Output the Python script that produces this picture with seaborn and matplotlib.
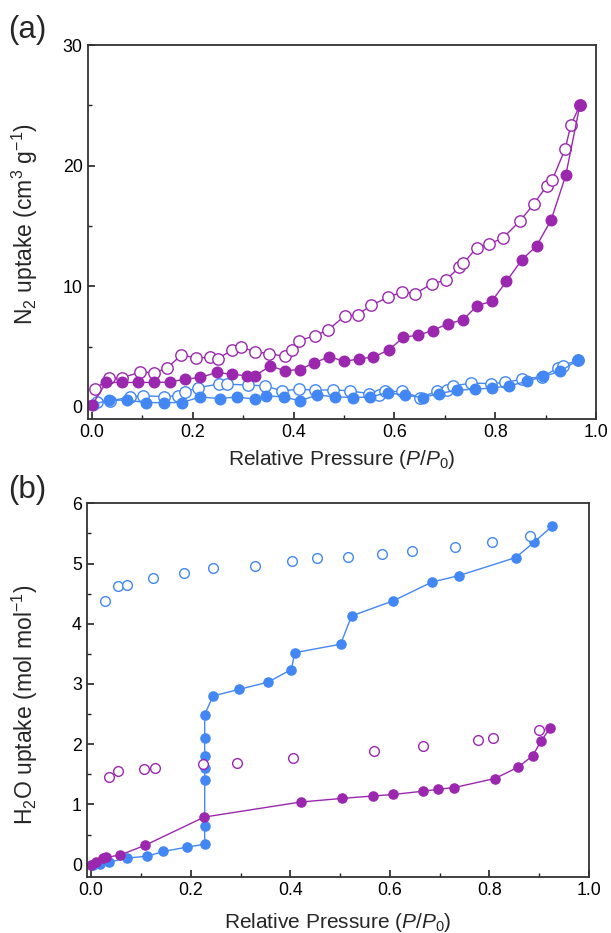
import matplotlib
matplotlib.use("Agg")
import matplotlib.pyplot as plt
from matplotlib.ticker import MultipleLocator
import seaborn as sns
import pandas as pd

# ---------------- data: panel (a) N2 ----------------
a_purple_ads_x = [0.0, 0.028, 0.060, 0.091, 0.122, 0.154, 0.184, 0.215, 0.247, 0.278, 0.307, 0.323,
                  0.354, 0.382, 0.412, 0.441, 0.471, 0.500, 0.529, 0.558, 0.589, 0.618, 0.647, 0.676,
                  0.706, 0.736, 0.764, 0.793, 0.822, 0.853, 0.882, 0.911, 0.940, 0.968]
a_purple_ads_y = [0.15, 2.03, 2.03, 2.03, 2.03, 2.06, 2.3, 2.44, 2.86, 2.7, 2.58, 2.58,
                  3.4, 3.0, 3.1, 3.65, 4.17, 3.78, 3.97, 4.14, 4.72, 5.78, 5.95, 6.33,
                  6.9, 7.2, 8.4, 8.75, 10.4, 12.2, 13.35, 15.5, 19.2, 25.0]
a_purple_des_x = [0.006, 0.033, 0.060, 0.096, 0.122, 0.148, 0.177, 0.207, 0.235, 0.249, 0.278, 0.295,
                  0.323, 0.352, 0.382, 0.397, 0.411, 0.442, 0.469, 0.501, 0.527, 0.554, 0.588, 0.616,
                  0.641, 0.675, 0.702, 0.729, 0.737, 0.763, 0.788, 0.815, 0.849, 0.876, 0.902, 0.913,
                  0.939, 0.950, 0.968]
a_purple_des_y = [1.45, 2.39, 2.42, 2.9, 2.83, 3.19, 4.3, 4.06, 4.1, 4.0, 4.7, 4.97,
                  4.58, 4.42, 4.19, 4.7, 5.5, 5.9, 6.4, 7.53, 7.64, 8.42, 9.11, 9.53,
                  9.39, 10.22, 10.5, 11.6, 11.9, 13.2, 13.5, 14.0, 15.4, 16.8, 18.3, 18.8,
                  21.4, 23.36, 25.0]
a_blue_ads_x = [0.002, 0.033, 0.069, 0.108, 0.143, 0.178, 0.215, 0.253, 0.287, 0.324, 0.345, 0.380,
                0.413, 0.447, 0.482, 0.518, 0.552, 0.587, 0.621, 0.656, 0.689, 0.724, 0.759, 0.793,
                0.827, 0.863, 0.895, 0.929, 0.964]
a_blue_ads_y = [0.2, 0.56, 0.56, 0.36, 0.36, 0.36, 0.83, 0.69, 0.83, 0.64, 0.92, 0.83,
                0.5, 1.0, 0.83, 0.78, 0.83, 1.19, 0.97, 0.78, 1.11, 1.39, 1.47, 1.56,
                1.75, 2.11, 2.53, 2.94, 3.89]
a_blue_des_x = [0.010, 0.036, 0.076, 0.102, 0.143, 0.170, 0.185, 0.211, 0.251, 0.268, 0.309, 0.344,
                0.377, 0.410, 0.443, 0.479, 0.512, 0.549, 0.570, 0.582, 0.615, 0.651, 0.684, 0.705,
                0.717, 0.752, 0.792, 0.820, 0.853, 0.892, 0.925, 0.934, 0.964]
a_blue_des_y = [0.45, 0.5, 0.83, 0.92, 0.86, 0.92, 1.25, 1.61, 1.89, 1.89, 1.81, 1.75,
                1.33, 1.47, 1.39, 1.42, 1.33, 1.11, 1.0, 1.28, 1.28, 0.78, 1.28, 1.39,
                1.75, 1.97, 1.94, 2.03, 2.31, 2.5, 3.22, 3.42, 3.89]

# ---------------- data: panel (b) H2O ----------------
b_blue_ads_x = [0.003, 0.017, 0.035, 0.072, 0.113, 0.145, 0.192, 0.228, 0.228, 0.228, 0.228, 0.228,
                0.228, 0.228, 0.2445, 0.297, 0.355, 0.402, 0.409, 0.501, 0.523, 0.6065, 0.684,
                0.739, 0.853, 0.889, 0.926]
b_blue_ads_y = [0.0, 0.01, 0.04, 0.11, 0.14, 0.22, 0.29, 0.34, 0.65, 1.40, 1.60, 1.81,
                2.10, 2.49, 2.80, 2.91, 3.03, 3.24, 3.52, 3.66, 4.13, 4.38, 4.69,
                4.80, 5.10, 5.35, 5.62]
b_blue_des_x = [0.027, 0.0535, 0.072, 0.124, 0.186, 0.2445, 0.330, 0.403, 0.454, 0.516, 0.585,
                0.6435, 0.731, 0.806, 0.881]
b_blue_des_y = [4.37, 4.63, 4.64, 4.76, 4.85, 4.92, 4.96, 5.04, 5.09, 5.11, 5.15,
                5.21, 5.28, 5.35, 5.46]
b_purple_ads_x = [0.0006, 0.0087, 0.023, 0.030, 0.058, 0.108, 0.227, 0.421, 0.504, 0.566, 0.6065,
                  0.667, 0.696, 0.729, 0.811, 0.858, 0.887, 0.9035, 0.922]
b_purple_ads_y = [0.0, 0.05, 0.11, 0.12, 0.16, 0.32, 0.79, 1.04, 1.10, 1.14, 1.165,
                  1.22, 1.25, 1.28, 1.43, 1.62, 1.81, 2.05, 2.27]
b_purple_des_x = [0.035, 0.0535, 0.106, 0.129, 0.224, 0.292, 0.405, 0.568, 0.667, 0.777, 0.808, 0.8995]
b_purple_des_y = [1.45, 1.55, 1.59, 1.60, 1.675, 1.69, 1.775, 1.885, 1.97, 2.075, 2.10, 2.24]

PURPLE = "#9B27AF"
BLUE = "#4287F3"

sns.set_style("ticks")
plt.rcParams["font.family"] = ["Liberation Sans", "DejaVu Sans"]
plt.rcParams["mathtext.fontset"] = "custom"
plt.rcParams["mathtext.rm"] = "Liberation Sans"
plt.rcParams["mathtext.it"] = "Liberation Sans:italic"
plt.rcParams["mathtext.bf"] = "Liberation Sans:bold"

W, H = 611, 933
fig = plt.figure(figsize=(W / 100, H / 100), dpi=100)
ax_a = fig.add_axes([87.5 / W, 1 - 419 / H, (596 - 87.5) / W, 374 / H])
ax_b = fig.add_axes([86.7 / W, 1 - 876.7 / H, (589 - 86.7) / W, 373.4 / H])


def line(ax, xs, ys, color, filled, ms, lw=1.0, mew=1.0):
    df = pd.DataFrame({"x": xs, "y": ys})
    sns.lineplot(data=df, x="x", y="y", ax=ax, sort=False, estimator=None,
                 color=color, lw=lw, marker="o", markersize=ms,
                 markerfacecolor=color if filled else "white",
                 markeredgecolor=color, markeredgewidth=mew)


def dots(ax, xs, ys, color, ms):
    df = pd.DataFrame({"x": xs, "y": ys})
    sns.lineplot(data=df, x="x", y="y", ax=ax, sort=False, estimator=None,
                 color=color, lw=0, linestyle="none", marker="o", markersize=ms,
                 markerfacecolor="white", markeredgecolor=color, markeredgewidth=1.0)


# panel (a)
line(ax_a, a_blue_des_x, a_blue_des_y, BLUE, False, 8.2)
line(ax_a, a_blue_ads_x, a_blue_ads_y, BLUE, True, 7.6)
line(ax_a, a_purple_des_x, a_purple_des_y, PURPLE, False, 8.2)
line(ax_a, a_purple_ads_x, a_purple_ads_y, PURPLE, True, 7.6)

# panel (b)
line(ax_b, b_blue_ads_x, b_blue_ads_y, BLUE, True, 6.6)
dots(ax_b, b_blue_des_x, b_blue_des_y, BLUE, 7.0)
line(ax_b, b_purple_ads_x, b_purple_ads_y, PURPLE, True, 6.6)
dots(ax_b, b_purple_des_x, b_purple_des_y, PURPLE, 7.0)

for ax in (ax_a, ax_b):
    ax.set_xlim(-0.009, 1.0)
    ax.xaxis.set_major_locator(MultipleLocator(0.2))
    ax.xaxis.set_minor_locator(MultipleLocator(0.1))
    ax.xaxis.set_major_formatter(matplotlib.ticker.FormatStrFormatter("%.1f"))
    ax.tick_params(which="both", direction="in", top=False, right=False, colors="#222222",
                   labelsize=12.8, labelcolor="black")
    ax.tick_params(which="major", length=5, width=1.2)
    ax.tick_params(which="minor", length=3, width=1.0)
    for s in ax.spines.values():
        s.set_linewidth(1.3)
        s.set_color("#333333")

ax_a.set_xlabel("Relative Pressure ($P$/$P_0$)", fontsize=15, labelpad=5)
ax_b.set_xlabel("Relative Pressure ($P$/$P_0$)", fontsize=15, labelpad=9)

ax_a.set_ylim(-1, 30)
ax_a.yaxis.set_major_locator(MultipleLocator(10))
ax_a.yaxis.set_minor_locator(MultipleLocator(5))
ax_a.set_ylabel("N$_2$ uptake (cm$^3$ g$^{-1}$)", fontsize=16.5)
ax_a.yaxis.set_label_coords((40 - 87.5) / 508.5, 0.52)

ax_b.set_ylim(-0.2, 6)
ax_b.yaxis.set_major_locator(MultipleLocator(1))
ax_b.yaxis.set_minor_locator(MultipleLocator(0.5))
ax_b.set_ylabel("H$_2$O uptake (mol mol$^{-1}$)", fontsize=16.5)
ax_b.yaxis.set_label_coords((40 - 86.7) / 502.3, 0.46)

fig.text(8 / W, 1 - 30 / H, "(a)", fontsize=22.5, va="center", ha="left")
fig.text(8 / W, 1 - 490 / H, "(b)", fontsize=22.5, va="center", ha="left")

fig.savefig("out.png", dpi=100)
